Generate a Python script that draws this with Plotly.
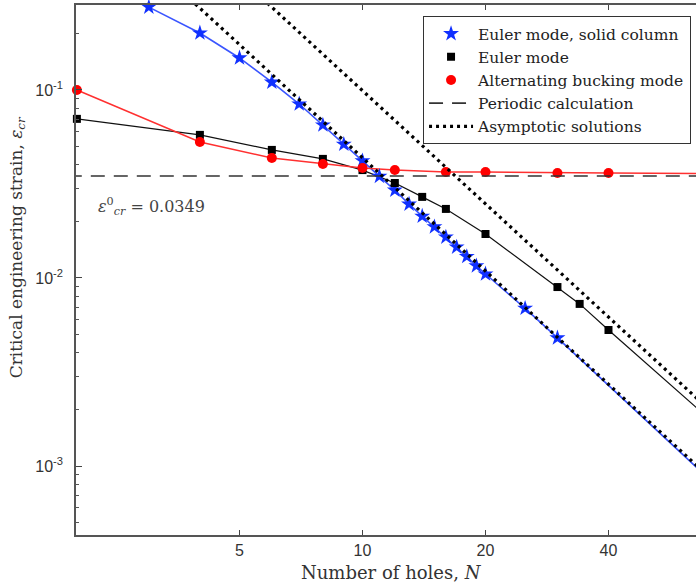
import numpy as np
import plotly.graph_objects as go

# Euler mode, solid column
solid_n = [3, 4, 5, 6, 7, 8, 9, 10, 11, 12, 13, 14, 15, 16, 17, 18, 19, 20, 25, 30, 80]
solid_eps = [0.276, 0.201, 0.148, 0.110, 0.0842, 0.0651, 0.0514, 0.0420, 0.0347,
             0.0293, 0.0247, 0.0213, 0.0187, 0.0165, 0.0146, 0.0130, 0.0116, 0.0105,
             0.0069, 0.0048, 0.00066]

# Euler mode (perforated column)
euler_n = [2, 4, 6, 8, 10, 12, 14, 16, 20, 30, 34, 40, 80]
euler_eps = [0.0702, 0.0577, 0.0480, 0.0430, 0.0375, 0.0320, 0.0270, 0.0233,
             0.01714, 0.00895, 0.00728, 0.00529, 0.0014]

# Alternating buckling mode
alt_n = [2, 4, 6, 8, 10, 12, 16, 20, 30, 40, 80]
alt_eps = [0.100, 0.0529, 0.0435, 0.0404, 0.0385, 0.0375, 0.0366, 0.0366,
           0.0362, 0.0362, 0.0358]

# Periodic (infinite column) critical strain
periodic_eps = 0.0349
periodic_n = [1.9, 80]

# Asymptotic solutions (straight lines on log-log axes)
asym1_n = [2, 80]
asym1_eps = [1.09, 0.00068]
asym2_n = [2, 80]
asym2_eps = [2.48, 0.00155]

x_ticks = [5, 10, 20, 40]
y_ticks = [1e-3, 1e-2, 1e-1]
y_ticktext = ["10<sup>-3</sup>", "10<sup>-2</sup>", "10<sup>-1</sup>"]

BLUE_LINE = "#3a55ff"
BLUE_MARK = "#1030ff"
RED_LINE = "#ff3030"
RED_MARK = "#ff0000"
SERIF = "DejaVu Serif"
SANS = "Liberation Sans"

fig = go.Figure()

# connecting lines (not in legend)
fig.add_trace(go.Scatter(x=solid_n, y=solid_eps, mode="lines", showlegend=False,
                         line=dict(color=BLUE_LINE, width=1.6), hoverinfo="skip"))
fig.add_trace(go.Scatter(x=euler_n, y=euler_eps, mode="lines", showlegend=False,
                         line=dict(color="#111111", width=1.2), hoverinfo="skip"))
fig.add_trace(go.Scatter(x=alt_n, y=alt_eps, mode="lines", showlegend=False,
                         line=dict(color=RED_LINE, width=1.5), hoverinfo="skip"))

# markers
fig.add_trace(go.Scatter(x=solid_n, y=solid_eps, mode="markers",
                         name="Euler mode, solid column", cliponaxis=False,
                         marker=dict(symbol="star", size=12, color=BLUE_MARK,
                                     line=dict(width=0))))
fig.add_trace(go.Scatter(x=euler_n, y=euler_eps, mode="markers",
                         name="Euler mode", cliponaxis=False,
                         marker=dict(symbol="square", size=8, color="#000000",
                                     line=dict(width=0))))
fig.add_trace(go.Scatter(x=alt_n, y=alt_eps, mode="markers",
                         name="Alternating bucking mode", cliponaxis=False,
                         marker=dict(symbol="circle", size=10, color=RED_MARK,
                                     line=dict(width=0))))

# periodic calculation
fig.add_trace(go.Scatter(x=periodic_n, y=[periodic_eps] * len(periodic_n), mode="lines",
                         name="Periodic calculation",
                         line=dict(color="#333333", width=1.6, dash="14px,9px")))

# asymptotic solutions
fig.add_trace(go.Scatter(x=asym1_n, y=asym1_eps, mode="lines",
                         name="Asymptotic solutions", legendgroup="asym",
                         line=dict(color="#000000", width=3.2, dash="3px,4px")))
fig.add_trace(go.Scatter(x=asym2_n, y=asym2_eps, mode="lines",
                         name="Asymptotic solutions", legendgroup="asym", showlegend=False,
                         line=dict(color="#000000", width=3.2, dash="3px,4px")))

# axes geometry: 408.6 px per decade on x, 188 px per decade on y
x_lo = np.log10(1.99)
x_hi = x_lo + 620 / 408.6
y_lo = -3.367
y_hi = -0.548

minor_y = [k * 10.0 ** d for d in range(-4, 0) for k in range(2, 10)
           if y_lo < np.log10(k * 10.0 ** d) < y_hi]

axis_line = dict(showline=True, linecolor="#555555", linewidth=1.5,
                 showgrid=False, zeroline=False)

fig.update_xaxes(type="log", range=[x_lo, x_hi], tickmode="array",
                 tickvals=x_ticks, ticktext=[str(v) for v in x_ticks],
                 ticks="inside", ticklen=5, tickwidth=1, tickcolor="#444444",
                 mirror="ticks", ticklabelstandoff=0,
                 tickfont=dict(family=SANS, size=16, color="#333333"), **axis_line)

fig.update_yaxes(type="log", range=[y_lo, y_hi], tickmode="array",
                 tickvals=y_ticks, ticktext=y_ticktext,
                 ticks="inside", ticklen=6, tickwidth=1, tickcolor="#444444",
                 minor=dict(tickmode="array", tickvals=minor_y, ticks="inside",
                            ticklen=3, tickwidth=1, tickcolor="#555555"),
                 mirror=False, ticklabelstandoff=8,
                 tickfont=dict(family=SANS, size=16, color="#333333"), **axis_line)

fig.update_layout(
    width=696, height=584,
    margin=dict(l=76, r=0, t=5, b=49),
    paper_bgcolor="white", plot_bgcolor="white",
    legend=dict(x=0.992, y=0.979, xanchor="right", yanchor="top",
                bgcolor="white", bordercolor="#333333", borderwidth=1,
                font=dict(family=SERIF, size=15.5, color="#222222"),
                itemwidth=44, tracegroupgap=0),
    annotations=[
        dict(text="Number of holes, <i>N</i>", xref="paper", yref="paper",
             x=0.509, y=-0.07, xanchor="center", yanchor="middle", showarrow=False,
             font=dict(family=SERIF, size=18, color="#333333")),
        dict(text="Critical engineering strain, <i>ε</i><sub><i>cr</i></sub>",
             xref="paper", yref="paper", x=-0.095, y=0.543, textangle=-90,
             xanchor="center", yanchor="middle", showarrow=False,
             font=dict(family=SERIF, size=17, color="#333333")),
        dict(text=f"<i>ε</i><sup>0</sup><sub><i>cr</i></sub> = {periodic_eps}",
             xref="x", yref="y", x=np.log10(2.23), y=np.log10(0.0241),
             xanchor="left", yanchor="middle", showarrow=False,
             font=dict(family=SERIF, size=16, color="#444444")),
    ],
)

fig.write_html("out.html")
